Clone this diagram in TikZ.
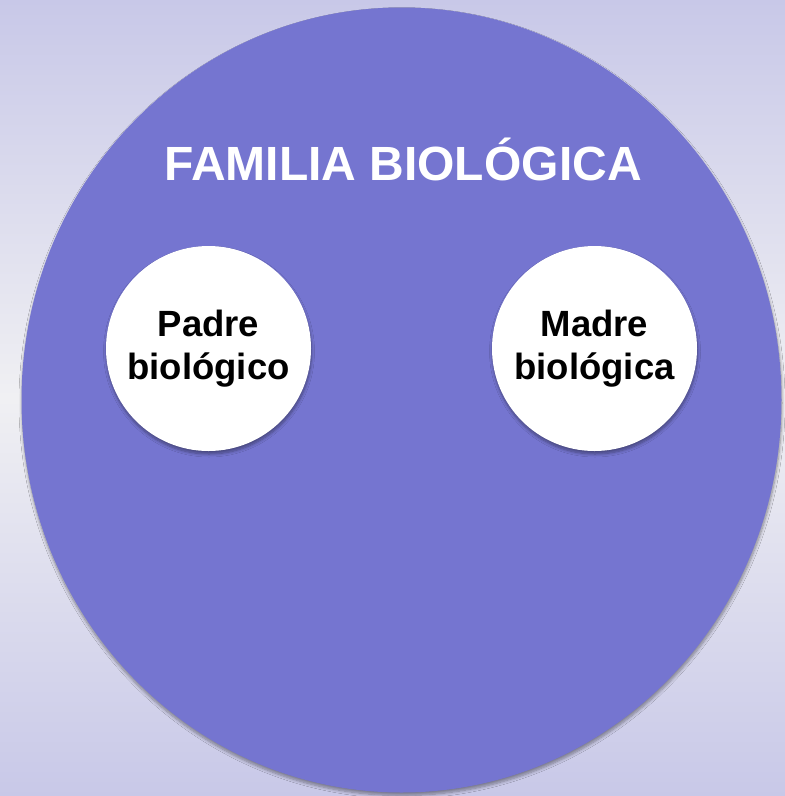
\documentclass[tikz,border=0pt]{standalone}
\usepackage{fontspec}
\setmainfont{Liberation Sans}
\usetikzlibrary{shapes.geometric,shadows.blur}
\definecolor{bgedge}{RGB}{200,200,232}
\definecolor{bgmid}{RGB}{240,240,243}
\definecolor{bigfill}{RGB}{117,117,208}
\tikzset{
  softshadow/.style={blur shadow={shadow blur steps=8, shadow xshift=0.5pt, shadow yshift=-3pt, shadow opacity=40, shadow blur radius=3pt}},
  bigoval/.style={ellipse, fill=bigfill, minimum width=760pt, minimum height=785pt, inner sep=0pt, softshadow},
  member/.style={circle, fill=white, minimum size=205pt, inner sep=0pt, align=center,
    font=\bfseries\fontsize{36.5}{43}\selectfont, text=black, softshadow},
  titletext/.style={font=\bfseries\fontsize{48}{56}\selectfont, text=white, inner sep=0pt, anchor=base}
}
\begin{document}
\begin{tikzpicture}[x=1pt,y=-1pt]
\useasboundingbox (0,0) rectangle (785,796);
\shade[top color=bgedge, bottom color=bgedge, middle color=bgmid] (0,0) rectangle (785,796);
\node[bigoval] (family) at (401.5,400) {};
\node[titletext] (title) at (403,180) {FAMILIA BIOLÓGICA};
\node[member] (father) at (208.5,348.5) {Padre\\biológico};
\node[member] (mother) at (594.5,348.5) {Madre\\biológica};
\end{tikzpicture}
\end{document}
